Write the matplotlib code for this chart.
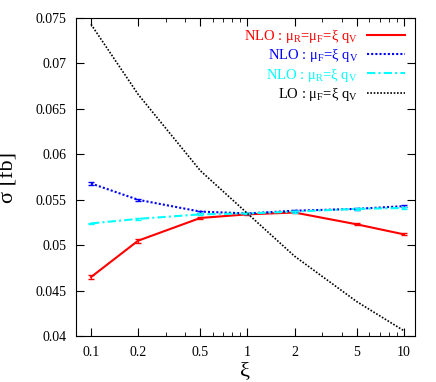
import numpy as np
import matplotlib.pyplot as plt
from matplotlib.ticker import FixedLocator, NullFormatter

plt.rcParams['font.family'] = 'Liberation Serif'
plt.rcParams['mathtext.fontset'] = 'custom'
plt.rcParams['mathtext.rm'] = 'Liberation Serif'
plt.rcParams['mathtext.it'] = 'Liberation Serif:italic'

xi = [0.1, 0.2, 0.5, 1, 2, 5, 10]
nlo_rf = [0.0465, 0.0505, 0.0530, 0.0534, 0.0536, 0.0523, 0.0512]
nlo_rf_err = [0.0002, 0.0002, 0.0001, 0.0001, 0.0001, 0.0001, 0.0001]
nlo_f = [0.0568, 0.0550, 0.0537, 0.0535, 0.0538, 0.0540, 0.0543]
nlo_f_err = [0.0002, 0.0001, 0.0001, 0.0001, 0.0001, 0.0001, 0.0001]
nlo_r = [0.0524, 0.0529, 0.0534, 0.0535, 0.0537, 0.0540, 0.0541]
nlo_r_err = [0.0001, 0.0001, 0.0001, 0.0001, 0.0001, 0.0001, 0.0001]
lo_f = [0.0743, 0.0666, 0.0582, 0.0535, 0.0488, 0.0438, 0.0406]

xticks = [0.1, 0.2, 0.5, 1, 2, 5, 10]
xticklabels = ['0.1', '0.2', '0.5', '1', '2', '5', '10']
yticks = [0.04, 0.045, 0.05, 0.055, 0.06, 0.065, 0.07, 0.075]
yticklabels = ['0.04', '0.045', '0.05', '0.055', '0.06', '0.065', '0.07', '0.075']

fig = plt.figure(figsize=(4.36, 3.82), dpi=100)
ax = fig.add_axes([0.174, 0.120, 0.778, 0.833])

series = [
    (nlo_rf, nlo_rf_err, 'red', '-', 1.5, r'NLO : μ$_\mathrm{R}$=μ$_\mathrm{F}$=ξ q$_\mathrm{V}$'),
    (nlo_f, nlo_f_err, 'blue', (0, (1, 1)), 1.5, r'NLO : μ$_\mathrm{F}$=ξ q$_\mathrm{V}$'),
    (nlo_r, nlo_r_err, 'cyan', (0, (4, 1.5, 1, 1.5)), 1.5, r'NLO : μ$_\mathrm{R}$=ξ q$_\mathrm{V}$'),
    (lo_f, None, 'black', (0, (1, 1)), 1.2, r'LO : μ$_\mathrm{F}$=ξ q$_\mathrm{V}$'),
]
handles = []
for vals, err, col, ls, lw, lab in series:
    if err is not None:
        ax.errorbar(xi, vals, yerr=err, fmt='none', ecolor=col, capsize=2, elinewidth=0.8)
    h, = ax.plot(xi, vals, color=col, ls=ls, lw=lw, label=lab)
    handles.append(h)

ax.set_xscale('log')
ax.set_xlim(0.08, 11.8)
ax.set_ylim(0.04, 0.075)
ax.set_xticks(xticks)
ax.set_xticklabels(xticklabels)
minor = [0.3, 0.4, 0.6, 0.7, 0.8, 0.9, 3, 4, 6, 7, 8, 9]
ax.xaxis.set_minor_locator(FixedLocator(minor))
ax.xaxis.set_minor_formatter(NullFormatter())
ax.set_yticks(yticks)
ax.set_yticklabels(yticklabels)
ax.tick_params(which='both', direction='in', top=True, right=True, labelsize=10)
ax.tick_params(which='major', length=6, pad=7)
ax.tick_params(which='minor', length=3)

ax.set_xlabel('ξ', fontsize=16, labelpad=2)
ax.set_ylabel('σ [fb]', fontsize=16, labelpad=12)

ax.legend(handles=handles, loc='upper right', frameon=False, markerfirst=False,
          fontsize=10.5, labelcolor='linecolor', handlelength=2.6,
          borderaxespad=0.3, labelspacing=0.15, handletextpad=0.6)

fig.savefig('out.png', dpi=100)
